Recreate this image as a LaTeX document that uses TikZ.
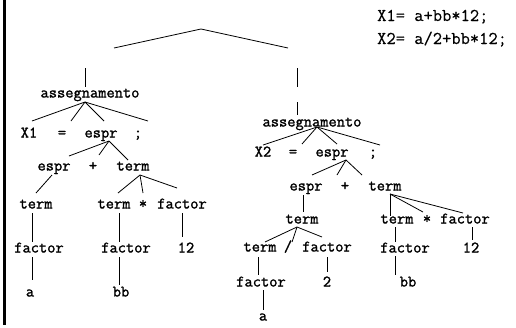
\documentclass[tikz,border=0pt]{standalone}
\usepackage{fontspec}
\newfontfamily\lmtree{Latin Modern Mono}[FakeBold=1.5]
\newfontfamily\lmsrc{Latin Modern Mono}[FakeBold=0.4]
\begin{document}
\begin{tikzpicture}[x=1pt,y=-1pt,
  tn/.style={font=\lmtree\fontsize{16}{16}\selectfont, inner sep=0pt, text height=7pt, text depth=0pt},
  src/.style={font=\lmsrc\fontsize{18}{18}\selectfont, inner sep=0pt, text height=8pt, text depth=0pt, anchor=west},
  ln/.style={line width=0.8pt}]
\useasboundingbox (0,0) rectangle (516,327);
\newcommand\tedge[6]{\draw[ln] ([shift={(#2,#3)}]#1.center) -- ([shift={(#5,#6)}]#4.center);}
% frame edge
\coordinate (fa) at (4.5,0);
\coordinate (fb) at (4.5,325);
\draw[line width=3pt] (fa) -- (fb);
% source text
\node[src] (s1) at (377,17) {X1= a+bb*12;};
\node[src] (s2) at (377,40) {X2= a/2+bb*12;};
% root
\coordinate (rL) at (114,48);
\coordinate (rA) at (201,29);
\coordinate (rR) at (288,48);
\draw[ln] (rL) -- (rA) -- (rR);
\coordinate (topL) at (85,68);
\coordinate (topR) at (297,68);
\coordinate (midR1) at (297,87);
\coordinate (midR2) at (297,102);
% left tree
\node[tn] (asgL) at (90,94) {assegnamento};
\node[tn] (x1) at (29,134) {X1};
\node[tn] (eqL) at (62,134) {=};
\node[tn] (esprL) at (101,134) {espr};
\node[tn] (scL) at (138,134) {;};
\node[tn] (esprL2) at (54,167) {espr};
\node[tn] (plusL) at (93,167) {+};
\node[tn] (termL) at (133,167) {term};
\node[tn] (termL3) at (36,205) {term};
\node[tn] (termL4) at (114,205) {term};
\node[tn] (starL) at (143,205) {*};
\node[tn] (factL4) at (182,205) {factor};
\node[tn] (factL5) at (39,249) {factor};
\node[tn] (factL6) at (126,249) {factor};
\node[tn] (n12L) at (186,249) {12};
\node[tn] (aL) at (30,293) {a};
\node[tn] (bbL) at (121,293) {bb};
% right tree
\node[tn] (asgR) at (312,123) {assegnamento};
\node[tn] (x2) at (263,153) {X2};
\node[tn] (eqR) at (293,153) {=};
\node[tn] (esprR) at (332,153) {espr};
\node[tn] (scR) at (373,153) {;};
\node[tn] (esprR2) at (306,187) {espr};
\node[tn] (plusR) at (345,187) {+};
\node[tn] (termR) at (385,187) {term};
\node[tn] (termR3) at (302,220) {term};
\node[tn] (termR4) at (397,220) {term};
\node[tn] (starR) at (427,220) {*};
\node[tn] (factR4) at (465,220) {factor};
\node[tn] (termR5) at (260,248) {term};
\node[tn] (slashR) at (288,248) {/};
\node[tn] (factR5) at (327,248) {factor};
\node[tn] (factR6) at (405,249) {factor};
\node[tn] (n12R) at (471,249) {12};
\node[tn] (factR7) at (261,283) {factor};
\node[tn] (twoR) at (327,283) {2};
\node[tn] (bbR) at (408,283) {bb};
\node[tn] (aR) at (263,317) {a};
% left edges
\draw[ln] (topL) -- ([shift={(-5,-7)}]asgL.center);
\tedge{asgL}{-5}{8}{x1}{3}{-13}
\tedge{asgL}{-5}{8}{eqL}{9}{-13}
\tedge{asgL}{-5}{8}{esprL}{3}{-13}
\tedge{asgL}{-5}{8}{scL}{10}{-13}
\tedge{esprL}{8}{7}{esprL2}{15}{-11}
\tedge{esprL}{8}{7}{plusL}{6}{-12}
\tedge{esprL}{8}{7}{termL}{-5}{-7}
\tedge{esprL2}{-2}{8}{termL3}{0}{-12}
\tedge{termL}{7}{8}{termL4}{4}{-12}
\tedge{termL}{7}{8}{starL}{0}{-12}
\tedge{termL}{7}{8}{factL4}{-5}{-17}
\tedge{termL3}{-4}{8}{factL5}{-7}{-7}
\tedge{termL4}{5}{8}{factL6}{-7}{-7}
\tedge{factL4}{0}{8}{n12L}{-4}{-12}
\tedge{factL5}{-7}{8}{aL}{2}{-13}
\tedge{factL6}{-7}{8}{bbL}{-2}{-8}
% right edges
\draw[ln] (topR) -- (midR1);
\draw[ln] (midR2) -- ([shift={(-15,-8)}]asgR.center);
\tedge{asgR}{5}{4}{x2}{0}{-8}
\tedge{asgR}{5}{4}{eqR}{9}{-9}
\tedge{asgR}{5}{4}{esprR}{5}{-9}
\tedge{asgR}{5}{4}{scR}{7}{-8}
\tedge{esprR}{14}{7}{esprR2}{6}{-12}
\tedge{esprR}{14}{7}{plusR}{-8}{-12}
\tedge{esprR}{14}{7}{termR}{-23}{-12}
\tedge{esprR2}{-3}{8}{termR3}{1}{-8}
\tedge{termR3}{-5}{7}{termR5}{5}{-6}
\tedge{termR3}{-5}{7}{slashR}{4}{-6}
\tedge{termR3}{-5}{7}{factR5}{-5}{-11}
\tedge{termR}{5}{7}{termR4}{-7}{-4}
\tedge{termR}{5}{7}{starR}{-4}{-8}
\tedge{termR}{5}{7}{factR4}{-2}{-7}
\tedge{termR4}{-2}{7}{factR6}{-10}{-7}
\tedge{factR4}{7}{7}{n12R}{1}{-9}
\tedge{termR5}{-2}{9}{factR7}{-3}{-8}
\tedge{factR5}{0}{9}{twoR}{0}{-11}
\tedge{factR7}{2}{7}{aR}{0}{-7}
\tedge{factR6}{-10}{7}{bbR}{-13}{-8}
\end{tikzpicture}
\end{document}
